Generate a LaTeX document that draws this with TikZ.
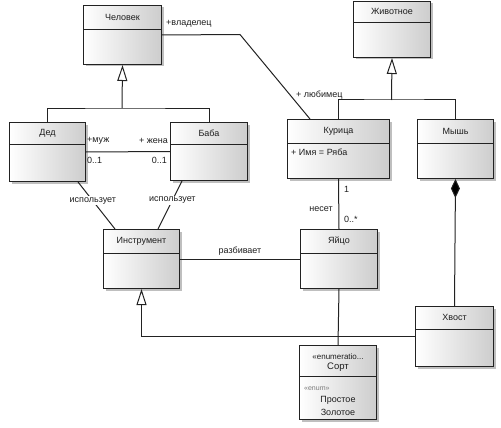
\documentclass[tikz,border=0pt]{standalone}
\usepackage{fontspec}
\setmainfont{Liberation Sans}
\usepackage{tikz}
\usetikzlibrary{arrows.meta,calc,shadows}
\definecolor{border}{HTML}{222222}
\definecolor{ink}{HTML}{1E1E1E}
\definecolor{wire}{HTML}{222222}
\definecolor{shade}{HTML}{CDCDCD}
\definecolor{muted}{HTML}{7A7A7A}
\tikzset{
  cls/.style={draw=border, line width=1pt, anchor=north west, inner sep=0pt,
    left color=white, right color=shade,
    drop shadow={shadow xshift=2pt, shadow yshift=-2pt, fill=gray, opacity=0.5}},
  sep/.style={draw=border, line width=0.8pt},
  title/.style={text=ink, font=\fontsize{9}{10}\selectfont, inner sep=1pt},
  lbl/.style={text=ink, font=\fontsize{9}{10}\selectfont, inner sep=1pt},
  wire/.style={draw=wire, line width=1pt},
  gen/.style={wire, -{Triangle[open,length=16pt,width=10pt]}},
  comp/.style={wire, {Diamond[length=19pt,width=9pt,fill=black]}-},
  tag/.style={lbl, fill=white, inner sep=1pt}
}
\newcommand{\UmlClass}[7]{% name, x, y, width, height, header, title
  \node[cls, minimum width=#4pt, minimum height=#5pt] (#1) at (#2,#3) {};
  \draw[sep] ($(#1.north west)+(0,#6)$) -- ($(#1.north east)+(0,#6)$);
  \node[title] (#1-t) at ($(#1.north)+(0,#6/2)$) {#7};
}

\begin{document}
\begin{tikzpicture}[x=1pt,y=-1pt]
  \useasboundingbox (0,0) rectangle (501,428);
  \UmlClass{chel}{83}{5}{78}{59}{24}{Человек}
  \UmlClass{zhiv}{353}{1}{77}{56}{21}{Животное}
  \UmlClass{ded}{9}{122}{76}{59}{22}{Дед}
  \UmlClass{baba}{170}{122}{77}{58}{22}{Баба}
  \UmlClass{kur}{287}{119}{102}{59}{24}{Курица}
  \UmlClass{mysh}{417}{119}{76}{59}{24}{Мышь}
  \UmlClass{instr}{103}{229}{76}{59}{24}{Инструмент}
  \UmlClass{yaico}{300}{229}{77}{59}{24}{Яйцо}
  \UmlClass{khvost}{415}{306}{78}{60}{23}{Хвост}
  \UmlClass{sort}{299}{345}{77}{74}{31}{}
  \node[lbl, anchor=west] (kur-a) at ($(kur.north west)+(3,33)$) {+ Имя = Ряба};
  \node[lbl, font=\fontsize{8}{9}\selectfont] (sort-s) at ($(sort.north)+(0,12)$) {«enumeratio...};
  \node[lbl, font=\fontsize{9.5}{10}\selectfont] (sort-n) at ($(sort.north)+(0,22)$) {Сорт};
  \node[lbl, anchor=west, text=muted, font=\fontsize{7}{8}\selectfont] (sort-e) at ($(sort.north west)+(4,44)$) {«enum»};
  \node[lbl] (sort-p) at ($(sort.north)+(0,55)$) {Простое};
  \node[lbl] (sort-z) at ($(sort.north)+(0,67)$) {Золотое};

  % generalizations
  \coordinate (hubA) at (122,108);
  \draw[gen] (hubA) -- (chel.south);
  \draw[wire] (ded.north) |- (hubA) -| (baba.north);
  \coordinate (hubB) at (391.5,100);
  \draw[gen] (hubB) -- (zhiv.south);
  \draw[wire] (kur.north) |- (hubB) -| (mysh.north);
  \draw[gen] (khvost.west) -| (instr.south);

  % associations
  \coordinate (bend) at (240,34.5);
  \coordinate (pet) at ($(kur.north west)+(23,0)$);
  \draw[wire] (chel.east) -- (bend) -- (pet);
  \node[lbl, anchor=west] (owner) at (165,24) {+владелец};
  \node[lbl, anchor=west] (fav) at (295,95) {+ любимец};

  \draw[wire] (ded.east) -- (baba.west);
  \node[lbl, anchor=west] (husb) at (86,141) {+муж};
  \node[lbl, anchor=east] (wife) at (169,141) {+ жена};
  \node[lbl, anchor=west] (husb-m) at (86,160) {0..1};
  \node[lbl, anchor=east] (wife-m) at (168,160) {0..1};

  \coordinate (dedU) at ($(ded.south east)+(-8,0)$);
  \coordinate (babaU) at ($(baba.south west)+(12,0)$);
  \draw[wire] (dedU) -- ($(instr.north west)+(12,0)$) node[tag, pos=0.4] (use1) {использует};
  \draw[wire] (babaU) -- ($(instr.north east)+(-22,0)$) node[tag, pos=0.4] (use2) {использует};

  \draw[wire] (instr.east) -- (yaico.west) node[lbl, midway, above=2pt] (hit) {разбивает};

  \draw[wire] (kur.south) -- (yaico.north);
  \node[lbl, anchor=west] (lay-1) at (343,189) {1};
  \node[lbl, anchor=east] (lay) at (334,209) {несет};
  \node[lbl, anchor=west] (lay-m) at (343,219) {0..*};

  \draw[comp] (mysh.south) -- (khvost.north);
  \draw[wire] (yaico.south) -- (sort.north);
\end{tikzpicture}
\end{document}
